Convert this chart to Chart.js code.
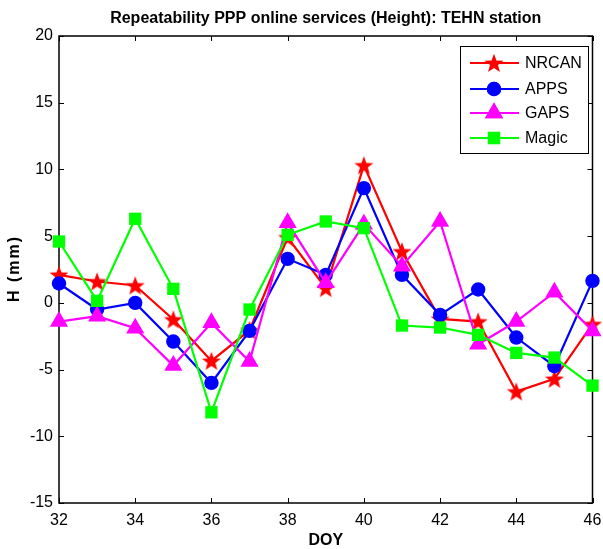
<!DOCTYPE html>
<html>
<head>
<meta charset="utf-8">
<script src="https://cdn.jsdelivr.net/npm/chart.js@4.4.1/dist/chart.umd.min.js"></script>
<style>
  html, body { margin: 0; padding: 0; background: #fff; }
  #wrap { width: 603px; height: 549px; }
</style>
</head>
<body>
<div id="wrap"><canvas id="c" width="603" height="549"></canvas></div>
<script>
// ---- data ----
const days = [32, 33, 34, 35, 36, 37, 38, 39, 40, 41, 42, 43, 44, 45, 46];
const nrcan = [2.1, 1.6, 1.3, -1.25, -4.35, -2.05, 4.9, 1.1, 10.3, 3.85, -1.2, -1.4, -6.65, -5.7, -1.6];
const apps  = [1.45, -0.5, 0.0, -2.9, -6.0, -2.1, 3.3, 2.1, 8.6, 2.1, -0.9, 1.0, -2.6, -4.75, 1.65];
const gaps  = [-1.4, -1.0, -1.9, -4.7, -1.5, -4.4, 6.0, 1.5, 5.9, 2.75, 6.1, -3.1, -1.4, 0.8, -2.1];
const magic = [4.6, 0.15, 6.3, 1.05, -8.2, -0.5, 5.1, 6.1, 5.6, -1.7, -1.85, -2.4, -3.75, -4.1, -6.2];
const seriesNames = ['NRCAN', 'APPS', 'GAPS', 'Magic'];
const titleText = 'Repeatability PPP online services (Height): TEHN station';
const xTitle = 'DOY';
const yTitle = 'H (mm)';

const FONT = '"Liberation Sans", Arial, Helvetica, sans-serif';

function makeStar(color, R, r) {
  const s = Math.ceil(2 * R + 2);
  const cv = document.createElement('canvas');
  cv.width = s; cv.height = s;
  const g = cv.getContext('2d');
  g.beginPath();
  for (let k = 0; k < 10; k++) {
    const a = -Math.PI / 2 + k * Math.PI / 5;
    const rad = (k % 2) ? r : R;
    const px = s / 2 + rad * Math.cos(a), py = s / 2 + rad * Math.sin(a) + 0.8;
    if (k === 0) g.moveTo(px, py); else g.lineTo(px, py);
  }
  g.closePath();
  g.fillStyle = color;
  g.fill();
  return cv;
}
const starImg = makeStar('#ff0000', 10, 4.2);

function pts(arr) { return days.map((d, i) => ({ x: d, y: arr[i] })); }

const styles = [
  { color: '#ff0000', pointStyle: starImg, radius: 9, order: 3 },
  { color: '#0000ff', pointStyle: 'circle', radius: 7.2, order: 2 },
  { color: '#ff00ff', pointStyle: 'triangle', radius: 10.5, order: 1 },
  { color: '#00ff00', pointStyle: 'rect', radius: 8.7, order: 0 }
];
const allSeries = [nrcan, apps, gaps, magic];

const datasets = allSeries.map((arr, i) => ({
  label: seriesNames[i],
  data: pts(arr),
  borderColor: styles[i].color,
  backgroundColor: styles[i].color,
  pointBackgroundColor: styles[i].color,
  pointBorderColor: styles[i].color,
  pointBorderWidth: 0,
  pointStyle: styles[i].pointStyle,
  pointRadius: styles[i].radius,
  pointHoverRadius: styles[i].radius,
  borderWidth: 2.2,
  tension: 0,
  fill: false,
  clip: false,
  order: styles[i].order
}));

const framePlugin = {
  id: 'frame',
  beforeDatasetsDraw(chart) {
    const { ctx, chartArea: a, scales } = chart;
    ctx.save();
    ctx.strokeStyle = '#000';
    ctx.lineWidth = 1.5;
    ctx.strokeRect(a.left, a.top, a.right - a.left, a.bottom - a.top);
    ctx.lineWidth = 1;
    const tl = 5;
    ctx.beginPath();
    scales.x.ticks.forEach(t => {
      const px = Math.round(scales.x.getPixelForValue(t.value)) + 0.5;
      ctx.moveTo(px, a.bottom); ctx.lineTo(px, a.bottom - tl);
      ctx.moveTo(px, a.top); ctx.lineTo(px, a.top + tl);
    });
    scales.y.ticks.forEach(t => {
      const py = Math.round(scales.y.getPixelForValue(t.value)) + 0.5;
      ctx.moveTo(a.left, py); ctx.lineTo(a.left + tl, py);
      ctx.moveTo(a.right, py); ctx.lineTo(a.right - tl, py);
    });
    ctx.stroke();
    ctx.restore();
  },
  afterDraw(chart) {
    const { ctx, chartArea: a } = chart;
    ctx.save();
    // title
    ctx.fillStyle = '#000';
    ctx.font = 'bold 16px ' + FONT;
    ctx.textAlign = 'center';
    ctx.textBaseline = 'middle';
    ctx.fillText(titleText, (a.left + a.right) / 2, 19);
    // y title
    ctx.save();
    ctx.translate(15, (a.top + a.bottom) / 2);
    ctx.rotate(-Math.PI / 2);
    try { ctx.letterSpacing = '2px'; } catch (e) {}
    ctx.fillText(yTitle, 1, 0);
    ctx.restore();
    // legend
    const bx = 460, by = 46, bw = 128, bh = 107;
    ctx.fillStyle = '#fff';
    ctx.fillRect(bx, by, bw, bh);
    ctx.strokeStyle = '#000';
    ctx.lineWidth = 1;
    ctx.strokeRect(bx + 0.5, by + 0.5, bw, bh);
    const ys = [63, 89, 113, 138];
    ctx.font = '16px ' + FONT;
    ctx.textAlign = 'left';
    ctx.textBaseline = 'middle';
    chart.data.datasets.forEach((ds, i) => {
      const y = ys[i];
      ctx.strokeStyle = ds.borderColor;
      ctx.lineWidth = 2.2;
      ctx.beginPath();
      ctx.moveTo(470, y); ctx.lineTo(519, y);
      ctx.stroke();
      ctx.fillStyle = ds.borderColor;
      if (typeof ds.pointStyle === 'object') {
        ctx.drawImage(ds.pointStyle, 494 - ds.pointStyle.width / 2, y - ds.pointStyle.height / 2);
      } else {
        Chart.helpers.drawPoint(ctx, { pointStyle: ds.pointStyle, radius: ds.pointRadius, borderWidth: 0, rotation: 0 }, 494, y);
        ctx.fill();
      }
      ctx.fillStyle = '#000';
      ctx.fillText(ds.label, 525, y + 1);
    });
    ctx.restore();
  }
};

new Chart(document.getElementById('c'), {
  type: 'line',
  data: { datasets },
  plugins: [framePlugin],
  options: {
    responsive: false,
    animation: false,
    events: [],
    layout: { padding: { top: 36, right: 9, left: 0, bottom: 0 } },
    plugins: { legend: { display: false }, tooltip: { enabled: false }, title: { display: false } },
    scales: {
      x: {
        type: 'linear',
        min: 32, max: 46,
        afterFit(s) { s.height = 46; s.paddingLeft = 0; s.paddingRight = 0; },
        ticks: { stepSize: 2, color: '#000', padding: 8, font: { family: FONT, size: 16 } },
        grid: { display: false, drawTicks: false },
        border: { display: false },
        title: { display: true, text: xTitle, color: '#000', padding: { top: 0, bottom: 0 }, font: { family: FONT, size: 16, weight: 'bold', lineHeight: 1 } }
      },
      y: {
        type: 'linear',
        min: -15, max: 20,
        afterFit(s) { s.width = 59; s.paddingTop = 0; s.paddingBottom = 0; },
        ticks: { stepSize: 5, color: '#000', padding: 6, font: { family: FONT, size: 16 } },
        grid: { display: false, drawTicks: false },
        border: { display: false },
        title: { display: false }
      }
    }
  }
});
</script>
</body>
</html>
